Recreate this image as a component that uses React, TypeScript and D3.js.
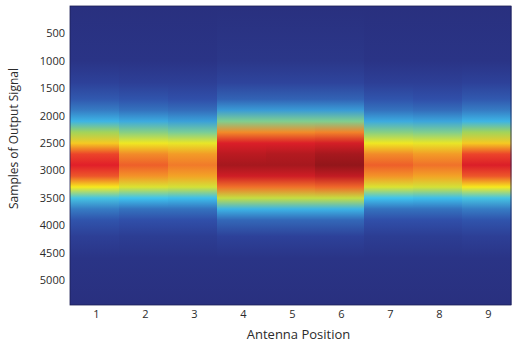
import * as d3 from "d3";

// antenna positions (columns)
const positions = [1, 2, 3, 4, 5, 6, 7, 8, 9];
// sample rows where each column's level was read
const samples = [0, 1000, 1400, 1700, 1900, 2100, 2300, 2500, 2700, 2900, 3100, 3300, 3500, 3700, 3900, 4200, 4600, 5450];
// normalised level per column at each sample row
const col1 = [0, 0.02, 0.08, 0.15, 0.22, 0.33, 0.5, 0.66, 0.82, 0.87, 0.8, 0.62, 0.37, 0.22, 0.14, 0.07, 0.02, 0];
const col2 = [0, 0.02, 0.07, 0.14, 0.2, 0.31, 0.46, 0.61, 0.74, 0.79, 0.73, 0.58, 0.36, 0.2, 0.13, 0.06, 0.02, 0];
const col3 = [0, 0.02, 0.07, 0.13, 0.19, 0.29, 0.44, 0.6, 0.72, 0.76, 0.71, 0.57, 0.35, 0.2, 0.13, 0.06, 0.02, 0];
const col4 = [0, 0.03, 0.09, 0.17, 0.28, 0.45, 0.74, 0.88, 0.93, 0.96, 0.9, 0.77, 0.55, 0.33, 0.18, 0.08, 0.02, 0];
const col5 = [0, 0.03, 0.09, 0.17, 0.28, 0.45, 0.74, 0.88, 0.94, 0.96, 0.9, 0.77, 0.55, 0.33, 0.18, 0.08, 0.02, 0];
const col6 = [0, 0.03, 0.09, 0.17, 0.28, 0.45, 0.75, 0.89, 0.96, 0.99, 0.92, 0.78, 0.55, 0.33, 0.18, 0.08, 0.02, 0];
const col7 = [0, 0.02, 0.07, 0.14, 0.2, 0.31, 0.46, 0.61, 0.74, 0.79, 0.73, 0.58, 0.36, 0.2, 0.13, 0.06, 0.02, 0];
const col8 = [0, 0.02, 0.07, 0.13, 0.19, 0.3, 0.45, 0.6, 0.72, 0.77, 0.71, 0.57, 0.35, 0.2, 0.13, 0.06, 0.02, 0];
const col9 = [0, 0.02, 0.08, 0.15, 0.22, 0.33, 0.5, 0.66, 0.82, 0.88, 0.8, 0.62, 0.37, 0.22, 0.14, 0.07, 0.02, 0];
const columns = [col1, col2, col3, col4, col5, col6, col7, col8, col9];
const yTicks = [500, 1000, 1500, 2000, 2500, 3000, 3500, 4000, 4500, 5000];

const W = 513, H = 344;
const m = { top: 6, right: 2, bottom: 39, left: 70 };
const iW = W - m.left - m.right;
const iH = H - m.top - m.bottom;

// jet-like map, toned to the printed colours
const jet = d3.scaleLinear<string>()
  .domain([0, 0.12, 0.36, 0.5, 0.62, 0.75, 0.86, 1])
  .range(["#29307f", "#2f4aa6", "#3fc3ee", "#a2d45a", "#f6ea1e", "#f2832a", "#e8202a", "#8c1519"])
  .interpolate(d3.interpolateRgb);

export default function App() {
  const x = d3.scaleBand<number>().domain(positions).range([0, iW]).padding(0);
  const y = d3.scaleLinear().domain([0, 5450]).range([0, iH]);
  const font = "'Open Sans', 'DejaVu Sans', sans-serif";

  return (
    <svg width={W} height={H} style={{ position: "absolute", left: 0, top: 0, background: "#fff" }}>
      <defs>
        {columns.map((vals, i) => (
          <linearGradient key={i} id={`g${i}`} gradientUnits="userSpaceOnUse" x1={0} x2={0} y1={0} y2={iH}>
            {samples.map((s, j) => (
              <stop key={j} offset={y(s) / iH} stopColor={jet(vals[j])} />
            ))}
          </linearGradient>
        ))}
      </defs>
      <g transform={`translate(${m.left},${m.top})`}>
        {positions.map((p, i) => (
          <rect key={p} x={x(p)} y={0} width={x.bandwidth() + 0.5} height={iH} fill={`url(#g${i})`} />
        ))}
        <rect x={0} y={0} width={iW} height={iH} fill="none" stroke="#1c1f55" strokeWidth={0.8} />
        {yTicks.map((t) => (
          <text key={t} x={-5} y={y(t)} dy="0.35em" textAnchor="end" fontSize={11} fill="#2b2b2b" fontFamily={font}>
            {t}
          </text>
        ))}
        {positions.map((p) => (
          <text key={p} x={x(p)! + x.bandwidth() / 2 + 2} y={iH + 13} textAnchor="middle" fontSize={11} fill="#2b2b2b" fontFamily={font}>
            {p}
          </text>
        ))}
        <text x={iW / 2 + 8} y={iH + 34} textAnchor="middle" fontSize={13} fill="#2b2b2b" fontFamily={font}>
          Antenna Position
        </text>
        <text transform={`translate(${-52},${iH / 2 - 17}) rotate(-90)`} textAnchor="middle" fontSize={12} fill="#2b2b2b" fontFamily={font}>
          Samples of Output Signal
        </text>
      </g>
    </svg>
  );
}
